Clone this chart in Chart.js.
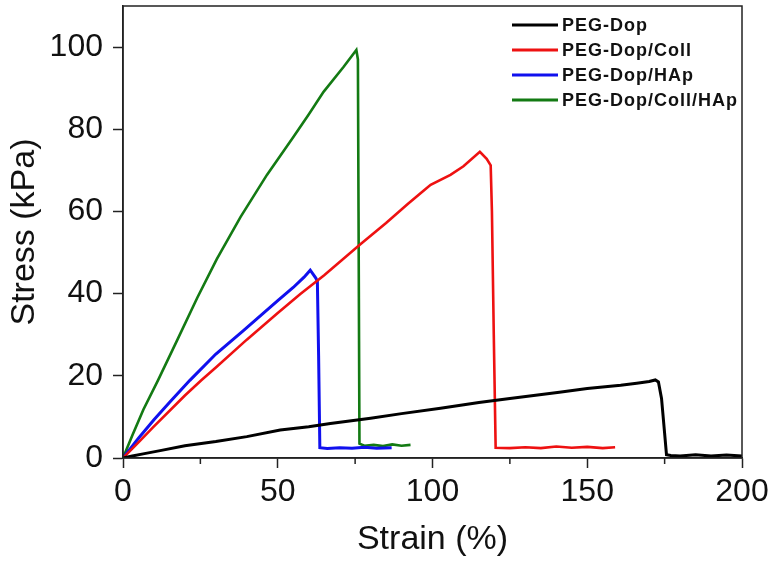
<!DOCTYPE html>
<html>
<head>
<meta charset="utf-8">
<script src="https://cdn.jsdelivr.net/npm/chart.js@4"></script>
<style>
  html, body { margin: 0; padding: 0; background: #fff; }
  #wrap { width: 775px; height: 564px; }
</style>
</head>
<body>
<div id="wrap"><canvas id="stressChart" width="775" height="564"></canvas></div>
<script>
// values (strain in %, stress in kPa)
const seriesNames = ["PEG-Dop", "PEG-Dop/Coll", "PEG-Dop/HAp", "PEG-Dop/Coll/HAp"];
const seriesColors = ["#000000", "#ee1111", "#1010ee", "#137a13"];

const dopStrain = [0, 3, 6.5, 12, 20, 30, 40, 50.8, 60, 67, 80, 90, 102.6, 115, 125, 141, 150, 160.8, 166, 170, 172, 173, 174, 175, 175.6, 177, 180, 185, 190, 195, 200];
const dopStress = [0, 0.5, 1.0, 1.8, 3.0, 4.0, 5.2, 6.8, 7.6, 8.4, 9.7, 10.8, 12.1, 13.5, 14.5, 16.0, 16.9, 17.7, 18.2, 18.6, 19.0, 18.5, 14.5, 6.0, 0.8, 0.6, 0.5, 0.8, 0.5, 0.7, 0.5];

const collStrain = [0, 5, 10, 20, 25.3, 30, 40, 50, 57.3, 65, 76.7, 85, 92, 97, 99.4, 105.8, 110, 115.3, 117.5, 118.8, 119.2, 119.8, 120.4, 125, 130, 135, 140, 145, 150, 155, 159];
const collStress = [0, 3.8, 7.7, 15.2, 18.9, 22.0, 28.8, 35.3, 39.9, 44.5, 52.0, 57.2, 61.8, 65.0, 66.5, 68.9, 71.0, 74.5, 72.8, 71.2, 60, 30, 2.5, 2.4, 2.6, 2.4, 2.8, 2.5, 2.7, 2.4, 2.6];

const hapStrain = [0, 5, 10, 15, 21.6, 30, 38.9, 45, 50, 55, 58.5, 60.5, 62.3, 62.8, 63.2, 63.6, 66, 70, 74, 78, 82, 86.8];
const hapStress = [0, 4.8, 9.3, 13.5, 18.9, 25.3, 31.0, 35.0, 38.3, 41.5, 44.0, 45.7, 43.8, 43.0, 25, 2.5, 2.3, 2.5, 2.4, 2.6, 2.4, 2.5];

const collHapStrain = [0, 3, 6.6, 11.3, 17.4, 24, 30.3, 38, 46.5, 55.1, 60, 64.8, 71.3, 75.4, 75.9, 76.1, 76.4, 78, 81, 84, 87, 90, 92.9];
const collHapStress = [0, 5.5, 11.8, 18.9, 28.5, 39.0, 48.4, 58.7, 68.9, 78.2, 83.6, 89.1, 95.2, 99.3, 97, 60, 3.5, 3.0, 3.2, 2.9, 3.3, 3.0, 3.2];

const xTicks = [0, 50, 100, 150, 200];
const yTicks = [0, 20, 40, 60, 80, 100];

function toPoints(xs, ys) {
  return xs.map(function (x, i) { return { x: x, y: ys[i] }; });
}

const allSeries = [
  toPoints(dopStrain, dopStress),
  toPoints(collStrain, collStress),
  toPoints(hapStrain, hapStress),
  toPoints(collHapStrain, collHapStress),
];

const FONT = "'Liberation Sans', Arial, sans-serif";

// box, minor ticks and the legend
const framePlugin = {
  id: "frame",
  afterDraw(chart) {
    const ctx = chart.ctx;
    const a = chart.chartArea;
    const xs = chart.scales.x;
    const ys = chart.scales.y;
    ctx.save();
    ctx.strokeStyle = "#222";
    ctx.lineWidth = 1.5;
    ctx.strokeRect(a.left, a.top, a.right - a.left, a.bottom - a.top);

    // minor ticks
    ctx.beginPath();
    xs.ticks.forEach(function (t) {
      if (xTicks.indexOf(t.value) >= 0) return;
      const px = xs.getPixelForValue(t.value);
      ctx.moveTo(px, a.bottom);
      ctx.lineTo(px, a.bottom + 6);
    });
    ys.ticks.forEach(function (t) {
      if (yTicks.indexOf(t.value) >= 0) return;
      const py = ys.getPixelForValue(t.value);
      ctx.moveTo(a.left, py);
      ctx.lineTo(a.left - 6, py);
    });
    ctx.stroke();

    // legend
    ctx.font = "bold 18px " + FONT;
    ctx.letterSpacing = "1px";
    ctx.textBaseline = "middle";
    ctx.textAlign = "left";
    chart.data.datasets.forEach(function (ds, i) {
      const y = 25 + i * 25;
      ctx.strokeStyle = ds.borderColor;
      ctx.lineWidth = 3;
      ctx.beginPath();
      ctx.moveTo(512, y);
      ctx.lineTo(558, y);
      ctx.stroke();
      ctx.fillStyle = "#111";
      ctx.fillText(ds.label, 562, y + 1);
    });
    ctx.restore();
  },
};

new Chart(document.getElementById("stressChart"), {
  type: "line",
  data: {
    datasets: allSeries.map(function (pts, i) {
      return {
        label: seriesNames[i],
        data: pts,
        borderColor: seriesColors[i],
        backgroundColor: seriesColors[i],
        borderWidth: i % 2 === 0 ? 3 : 2.6,
        pointRadius: 0,
        tension: 0,
        fill: false,
      };
    }),
  },
  options: {
    responsive: false,
    animation: false,
    layout: { padding: { top: 6, right: 33, left: 0, bottom: 0 } },
    plugins: {
      legend: { display: false },
      tooltip: { enabled: false },
    },
    scales: {
      x: {
        type: "linear",
        min: 0,
        max: 200,
        border: { display: true, color: "#222", width: 1.5 },
        grid: {
          drawOnChartArea: false,
          tickLength: 10,
          tickWidth: 1.5,
          tickColor: function (c) {
            return xTicks.indexOf(c.tick.value) >= 0 ? "#222" : "rgba(0,0,0,0)";
          },
        },
        ticks: {
          stepSize: 25,
          padding: 5,
          color: "#111",
          font: { family: FONT, size: 32 },
          callback: function (v) {
            return xTicks.indexOf(v) >= 0 ? String(v) : "";
          },
        },
        title: {
          display: true,
          text: "Strain (%)",
          color: "#111",
          font: { family: FONT, size: 34 },
          padding: { top: 0, bottom: 4 },
        },
        afterFit: function (scale) {
          scale.height = 106;
          scale.paddingLeft = 0;
          scale.paddingRight = 0;
        },
      },
      y: {
        min: 0,
        max: 110,
        border: { display: true, color: "#222", width: 1.5 },
        grid: {
          drawOnChartArea: false,
          tickLength: 10,
          tickWidth: 1.5,
          tickColor: function (c) {
            return yTicks.indexOf(c.tick.value) >= 0 ? "#222" : "rgba(0,0,0,0)";
          },
        },
        ticks: {
          stepSize: 10,
          padding: 10,
          color: "#111",
          font: { family: FONT, size: 32 },
          callback: function (v) {
            return yTicks.indexOf(v) >= 0 ? String(v) : "";
          },
        },
        title: {
          display: true,
          text: "Stress (kPa)",
          color: "#111",
          font: { family: FONT, size: 34 },
          padding: { top: 4, bottom: 0 },
        },
        afterFit: function (scale) {
          scale.width = 123;
          scale.paddingTop = 0;
          scale.paddingBottom = 0;
        },
      },
    },
  },
  plugins: [framePlugin],
});
</script>
</body>
</html>
